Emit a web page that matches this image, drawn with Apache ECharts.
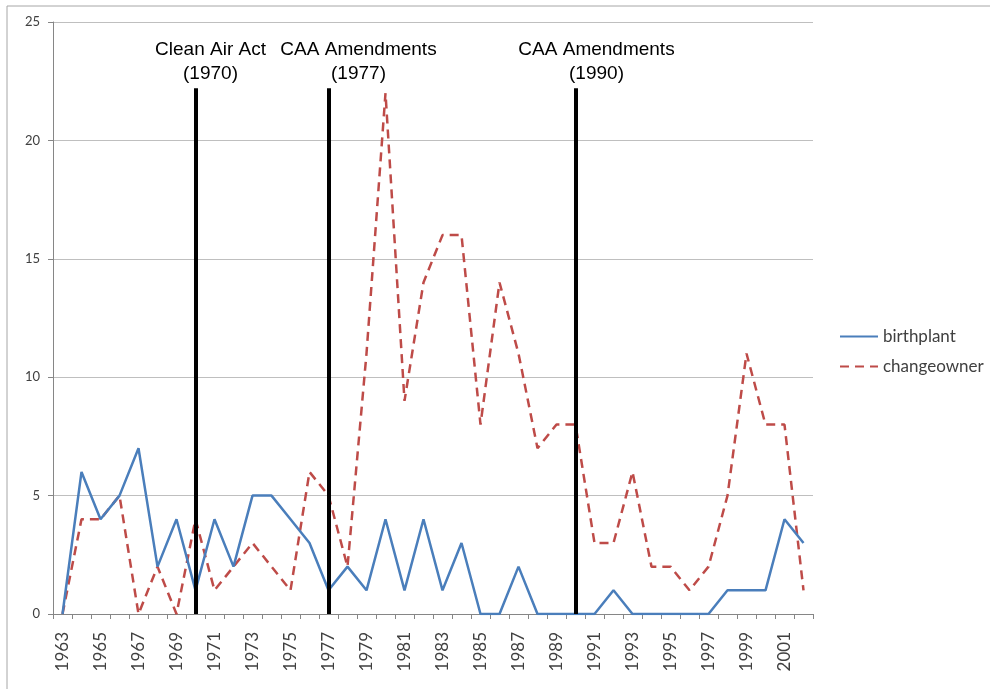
<!DOCTYPE html>
<html>
<head>
<meta charset="utf-8">
<script src="https://cdn.jsdelivr.net/npm/echarts@6/dist/echarts.min.js"></script>
<style>
  html, body { margin: 0; padding: 0; background: #fff; }
  #chart { width: 990px; height: 689px; }
</style>
</head>
<body>
<div id="chart"></div>
<script>
var years = [];
for (var y = 1963; y <= 2002; y++) years.push(String(y));

var birthplant = [0, 6, 4, 5, 7, 2, 4, 1, 4, 2, 5, 5, 4, 3, 1, 2, 1, 4, 1, 4,
    1, 3, 0, 0, 2, 0, 0, 0, 0, 1, 0, 0, 0, 0, 0, 1, 1, 1, 4, 3];
var changeowner = [0, 4, 4, 5, 0, 2, 0, 4, 1, 2, 3, 2, 1, 6, 5, 2, 11, 22, 9, 14,
    16, 16, 8, 14, 11, 7, 8, 8, 3, 3, 6, 2, 2, 1, 2, 5, 11, 8, 8, 1];

// policy events drawn as vertical markers
var events = [
    { year: '1970', text: 'Clean Air Act\n(1970)', dx: 15 },
    { year: '1977', text: 'CAA Amendments\n(1977)', dx: 30 },
    { year: '1990', text: 'CAA Amendments\n(1990)', dx: 21 }
];
var markTop = 22.2;

var myChart = echarts.init(document.getElementById('chart'));

var markData = events.map(function (e) {
    return [
        { xAxis: e.year, yAxis: 0 },
        {
            xAxis: e.year, yAxis: markTop,
            label: { formatter: e.text, offset: [e.dx, 2] }
        }
    ];
});

var option = {
    backgroundColor: '#fff',
    animation: false,
    graphic: [{
        type: 'rect',
        shape: { x: 7, y: 6, width: 1000, height: 700 },
        style: { fill: 'none', stroke: '#a6a6a6', lineWidth: 1 },
        silent: true
    }],
    grid: { left: 53, right: 177, top: 22, bottom: 75 },
    legend: {
        orient: 'vertical',
        left: 834,
        top: 323,
        itemWidth: 38,
        itemHeight: 10,
        itemGap: 13,
        itemStyle: { opacity: 0 },
        textStyle: { fontFamily: 'Lato', fontSize: 17, color: '#404040' },
        data: ['birthplant', 'changeowner']
    },
    xAxis: {
        type: 'category',
        data: years,
        boundaryGap: true,
        axisLine: { lineStyle: { color: '#868686' } },
        axisTick: { show: true, length: 5, interval: 0, lineStyle: { color: '#868686' } },
        axisLabel: {
            interval: 1,
            rotate: 90,
            fontFamily: 'Lato',
            fontSize: 17,
            color: '#404040',
            margin: 18
        },
        splitLine: { show: false }
    },
    yAxis: {
        type: 'value',
        min: 0,
        max: 25,
        interval: 5,
        axisLine: { show: true, lineStyle: { color: '#868686' } },
        axisTick: { show: true, length: 5, lineStyle: { color: '#868686' } },
        axisLabel: { fontFamily: 'Lato', fontSize: 13, color: '#404040', margin: 13 },
        splitLine: { lineStyle: { color: '#bfbfbf' } }
    },
    series: [
        {
            name: 'birthplant',
            type: 'line',
            data: birthplant,
            symbol: 'none',
            lineStyle: { color: '#4a7ebb', width: 2.5 },
            itemStyle: { color: '#4a7ebb' },
            z: 3
        },
        {
            name: 'changeowner',
            type: 'line',
            data: changeowner,
            symbol: 'none',
            lineStyle: { color: '#be4b48', width: 2.5, type: [9, 6] },
            itemStyle: { color: '#be4b48' },
            z: 2,
            markLine: {
                silent: true,
                symbol: ['none', 'none'],
                lineStyle: { color: '#000', width: 4, type: 'solid' },
                label: {
                    position: 'end',
                    color: '#000',
                    fontFamily: 'Liberation Sans',
                    fontSize: 19,
                    lineHeight: 24,
                    align: 'center'
                },
                emphasis: { disabled: true },
                data: markData
            }
        }
    ]
};

option && myChart.setOption(option);
</script>
</body>
</html>
